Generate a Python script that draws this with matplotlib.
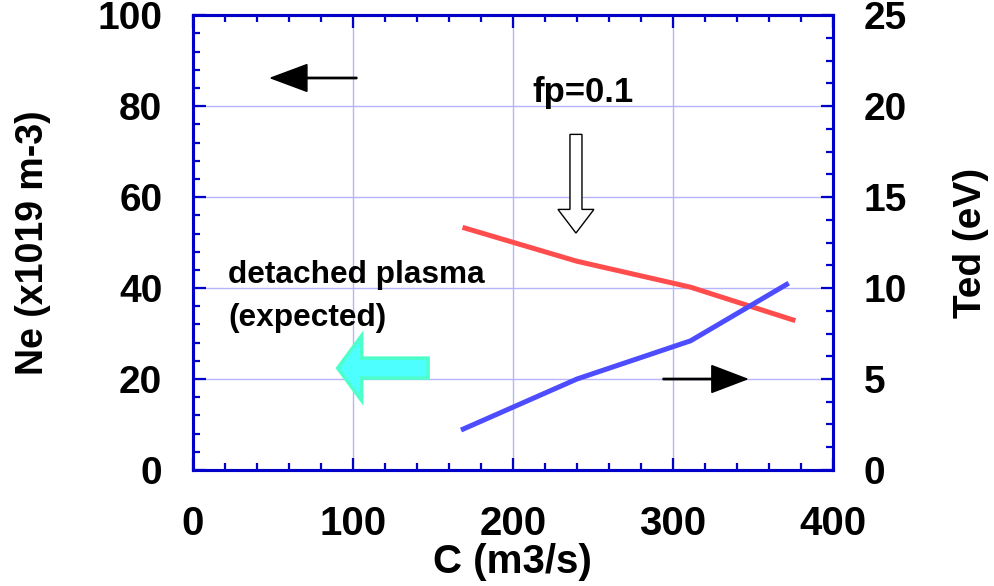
import matplotlib
matplotlib.use('Agg')
import matplotlib.pyplot as plt
from matplotlib.ticker import MultipleLocator
from matplotlib import font_manager

# pumping speed C (m3/s) and the two profiles
c_ne = [170, 240, 311, 375]
ne = [53.2, 45.9, 40.2, 33.0]          # Ne (x1019 m-3), left axis
c_te = [169, 240, 311, 371]
ted = [2.25, 5.0, 7.1, 10.2]            # Ted (eV), right axis

x_ticks = [0, 100, 200, 300, 400]
ne_ticks = [0, 20, 40, 60, 80, 100]
te_ticks = [0, 5, 10, 15, 20, 25]

frame = '#0000c8'
grid_c = '#b4b4ff'

names = {f.name for f in font_manager.fontManager.ttflist}
narrow = 'Liberation Sans Narrow' if 'Liberation Sans Narrow' in names else 'Liberation Sans'
plt.rcParams['font.family'] = ['Liberation Sans', 'DejaVu Sans']
plt.rcParams['font.weight'] = 'bold'

fig = plt.figure(figsize=(9.94, 5.86), dpi=100)
ax = fig.add_axes([0.194, 0.198, 0.644, 0.776])
ax2 = ax.twinx()

ax.set_xlim(0, 400)
ax.set_ylim(0, 100)
ax2.set_ylim(0, 25)

ax.xaxis.set_major_locator(MultipleLocator(100))
ax.xaxis.set_minor_locator(MultipleLocator(20))
ax.yaxis.set_major_locator(MultipleLocator(20))
ax.yaxis.set_minor_locator(MultipleLocator(4))
ax2.yaxis.set_major_locator(MultipleLocator(5))
ax2.yaxis.set_minor_locator(MultipleLocator(1.25))
ax.set_xticks(x_ticks)
ax.set_yticks(ne_ticks)
ax2.set_yticks(te_ticks)

ax.grid(True, which='major', color=grid_c, linewidth=1.0, zorder=0)
ax.set_axisbelow(True)

for a in (ax, ax2):
    for s in a.spines.values():
        s.set_color(frame)
        s.set_linewidth(2.2)

ax.tick_params(axis='x', which='both', direction='in', top=True, bottom=True,
               color=frame, width=1.6, pad=25)
ax.tick_params(axis='y', which='both', direction='in', left=True, right=False,
               color=frame, width=1.6, pad=22)
ax2.tick_params(axis='y', which='both', direction='in', color=frame, width=1.6, pad=22)
for a in (ax, ax2):
    a.tick_params(which='major', length=9)
    a.tick_params(which='minor', length=5)

for lab in ax.get_xticklabels():
    lab.set_fontfamily(narrow)
    lab.set_fontsize(29)
    lab.set_fontweight('bold')
for lab in ax.get_yticklabels() + ax2.get_yticklabels():
    lab.set_fontsize(28)
    lab.set_fontweight('bold')

ax.set_xlabel('C (m3/s)', fontsize=29, fontweight='bold', family=narrow, labelpad=0)
ax.set_ylabel('Ne (x1019 m-3)', fontsize=27, fontweight='bold', labelpad=33)
ax2.set_ylabel('Ted (eV)', fontsize=28, fontweight='bold', labelpad=33)

ax.plot(c_ne, ne, color='#ff4d4d', linewidth=3.6, zorder=3)
ax2.plot(c_te, ted, color='#4d4dff', linewidth=3.6, zorder=3)

# axis indicator arrows
ax.arrow(102.5, 86.2, -53.7, 0, width=0.3, head_width=5.9, head_length=22.5,
         length_includes_head=True, fc='k', ec='k', zorder=4)
ax.arrow(293.8, 20.0, 52.5, 0, width=0.3, head_width=5.9, head_length=22.0,
         length_includes_head=True, fc='k', ec='k', zorder=4)

# fp marker
ax.arrow(239.4, 73.8, 0, -21.7, width=7.5, head_width=22.5, head_length=5.2,
         length_includes_head=True, fc='white', ec='black', lw=1.0, zorder=4)
ax.text(243.8, 82.9, 'fp=0.1', fontsize=25, fontweight='bold', ha='center', va='center')

# detached plasma direction
ax.arrow(147, 22.4, -56.5, 0, width=4.4, head_width=14.3, head_length=15,
         length_includes_head=True, fc='#4dffff', ec='#4dffc8', lw=2.5, zorder=4)
ax.text(22, 42.9, 'detached plasma', fontsize=22.8, fontweight='bold', ha='left', va='center')
ax.text(22, 33.4, '(expected)', fontsize=22.8, fontweight='bold', ha='left', va='center')

fig.savefig('out.png', dpi=100)
